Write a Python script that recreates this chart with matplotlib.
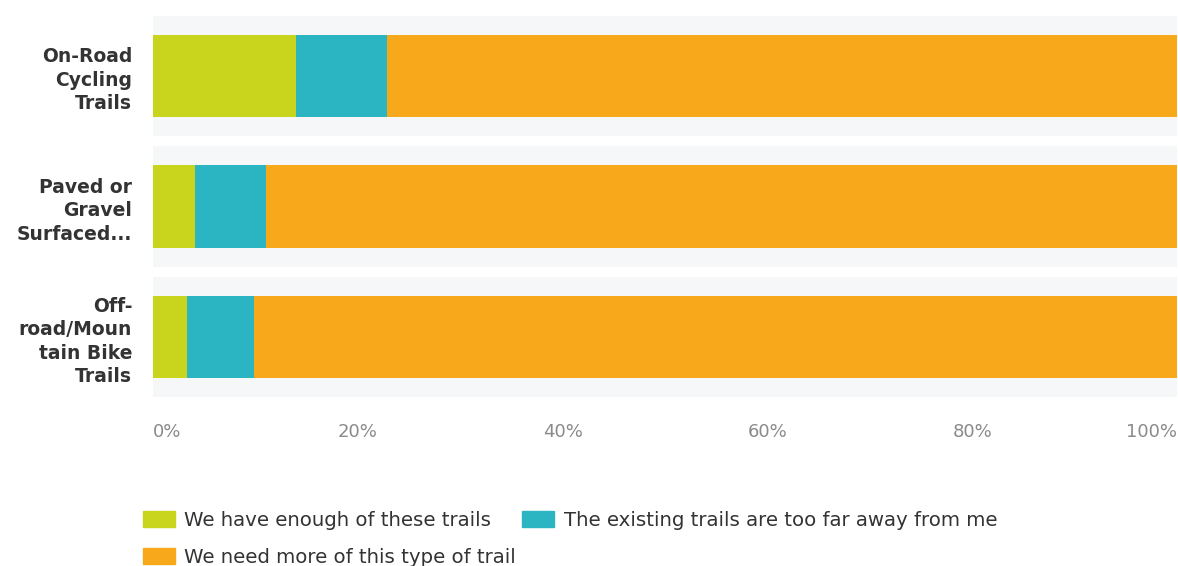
import numpy as np
import matplotlib
matplotlib.use("Agg")
from matplotlib import pyplot as plt
from matplotlib.patches import Patch

# dados
categorias = ["On-Road\nCycling\nTrails", "Paved or\nGravel\nSurfaced...", "Off-\nroad/Moun\ntain Bike\nTrails"]
series = ["We have enough of these trails",
          "The existing trails are too far away from me",
          "We need more of this type of trail"]
enough = [14.0, 4.1, 3.3]
too_far = [8.9, 6.9, 6.6]
need_more = [77.1, 89.0, 90.1]
ticks = [0, 20, 40, 60, 80, 100]
tick_labels = ["0%", "20%", "40%", "60%", "80%", "100%"]

cores = ["#c9d41d", "#2bb5c3", "#f7a81b"]

fig = plt.figure(figsize=(11.78, 5.66), dpi=100)
ax = fig.add_axes([153 / 1178, 1 - 402.25 / 566, 1024 / 1178, 391.5 / 566])

y = np.arange(len(categorias))

# faixas de fundo claras
for yi in y:
    ax.axhspan(yi - 0.46, yi + 0.46, color="#f6f7f9", zorder=0, lw=0)

esquerda = np.zeros(len(categorias))
for valores, cor, nome in zip([enough, too_far, need_more], cores, series):
    ax.barh(y, valores, left=esquerda, height=0.63, color=cor, label=nome, zorder=2)
    esquerda = esquerda + np.array(valores)

ax.set_xlim(0, 100)
ax.set_ylim(2.5, -0.5)
ax.set_yticks(y)
ax.set_yticklabels(categorias, fontsize=13.5, fontweight="bold", color="#333333",
                   family="DejaVu Sans", linespacing=1.3)
ax.set_xticks(ticks)
ax.set_xticklabels(tick_labels, fontsize=13, color="#8a8a8a", family="DejaVu Sans")
lbls = ax.get_xticklabels()
lbls[0].set_ha("left")
lbls[-1].set_ha("right")
ax.tick_params(axis="y", length=0, pad=15)
ax.tick_params(axis="x", length=0, pad=15)
for s in ax.spines.values():
    s.set_visible(False)

# legenda (ordem para preencher por linhas)
handles = [Patch(color=cores[0], label=series[0]),
           Patch(color=cores[2], label=series[2]),
           Patch(color=cores[1], label=series[1])]
fig.legend(handles=handles, loc="upper left", bbox_to_anchor=(143 / 1178, 1 - 511 / 566),
           ncol=2, frameon=False, borderpad=0, borderaxespad=0,
           prop={"family": "DejaVu Sans", "size": 14.2},
           handlelength=1.6, handleheight=0.85, handletextpad=0.5,
           columnspacing=0.3, labelspacing=0.9, labelcolor="#333333")

fig.savefig("out.png", dpi=100)
